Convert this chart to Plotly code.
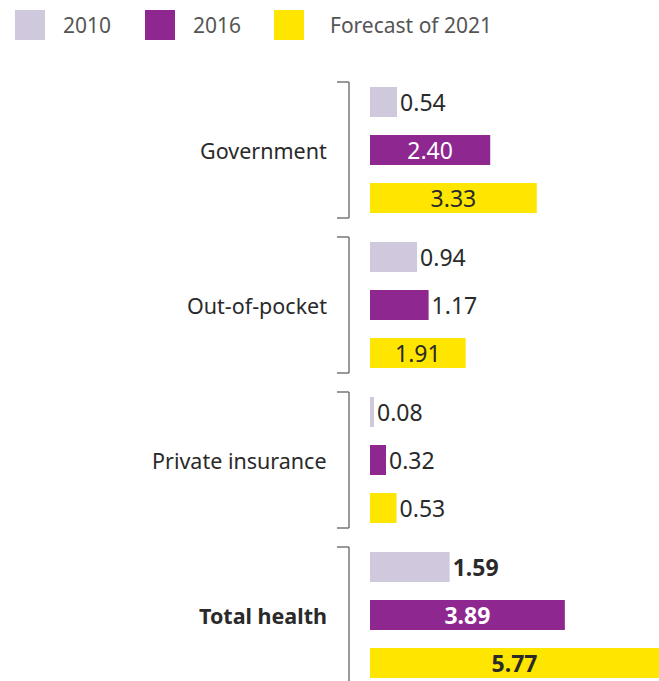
import plotly.graph_objects as go

# Health spending by payer (values as labelled)
categories = ["Government", "Out-of-pocket", "Private insurance", "Total health"]
series_names = ["2010", "2016", "Forecast of 2021"]
values_2010 = [0.54, 0.94, 0.08, 1.59]
values_2016 = [2.40, 1.17, 0.32, 3.89]
values_2021 = [3.33, 1.91, 0.53, 5.77]

colors = ["#D0C8DC", "#8E278F", "#FFE600"]
inside_text_colors = ["#2A2A2A", "#FFFFFF", "#2A2A2A"]

W, H = 659, 681
PLOT_LEFT = 370          # pixel where bars start
PLOT_W = W - PLOT_LEFT
ROW_PX = 48.0            # spacing between bars in a group (1 y-unit)
GROUP_STEP = 155.0 / ROW_PX
FIRST_ROW_PX = 102.0

FONT = "Noto Sans"
TXT = "#2A2A2A"

x_max = max(values_2010 + values_2016 + values_2021)


def px_to_paper_x(px):
    return (px - PLOT_LEFT) / PLOT_W


def px_to_paper_y(py):
    return 1 - py / H


fig = go.Figure()

all_series = [values_2010, values_2016, values_2021]
for s, (name, vals) in enumerate(zip(series_names, all_series)):
    ys = [g * GROUP_STEP + s for g in range(len(categories))]
    labels = [f"{v:.2f}" for v in vals]
    # wide bars carry their label inside, short bars outside
    positions = ["inside" if v >= 1.8 else "outside" for v in vals]
    texts = [f"<b>{t}</b>" if i == len(categories) - 1 else t
             for i, t in enumerate(labels)]
    fig.add_trace(go.Bar(
        x=vals, y=ys, orientation="h", name=name,
        marker=dict(color=colors[s], line=dict(width=0)),
        width=30 / ROW_PX,
        text=texts, textposition=positions,
        insidetextanchor="middle",
        insidetextfont=dict(family=FONT, size=23, color=inside_text_colors[s]),
        outsidetextfont=dict(family=FONT, size=23, color=TXT),
        constraintext="none", cliponaxis=False,
        showlegend=False, hoverinfo="skip",
    ))

annotations = []
shapes = []

# group labels and brackets
for g, cat in enumerate(categories):
    center = g * GROUP_STEP + 1
    half = 68 / ROW_PX
    top, bottom = center - half, center + half
    is_total = g == len(categories) - 1
    annotations.append(dict(
        x=px_to_paper_x(329), y=center, xref="paper", yref="y",
        text=f"<b>{cat}</b>" if is_total else cat,
        showarrow=False, xanchor="right", yanchor="middle",
        font=dict(family=FONT, size=21.5, color=TXT),
    ))
    bx = px_to_paper_x(349)
    tick = px_to_paper_x(337)
    line = dict(color="#777777", width=1.5)
    shapes.append(dict(type="line", xref="paper", yref="y",
                       x0=bx, x1=bx, y0=top, y1=bottom, line=line))
    shapes.append(dict(type="line", xref="paper", yref="y",
                       x0=tick, x1=bx, y0=top, y1=top, line=line))
    if not is_total:
        shapes.append(dict(type="line", xref="paper", yref="y",
                           x0=tick, x1=bx, y0=bottom, y1=bottom, line=line))

# legend row
legend_x = [(15, 61), (145, 191), (274, 328)]
for s, name in enumerate(series_names):
    sx, tx = legend_x[s]
    shapes.append(dict(type="rect", xref="paper", yref="paper",
                       x0=px_to_paper_x(sx), x1=px_to_paper_x(sx + 30),
                       y0=px_to_paper_y(40), y1=px_to_paper_y(10),
                       fillcolor=colors[s], line=dict(width=0)))
    annotations.append(dict(
        x=px_to_paper_x(tx), y=px_to_paper_y(25), xref="paper", yref="paper",
        text=name, showarrow=False, xanchor="left", yanchor="middle",
        font=dict(family=FONT, size=21, color="#555555"),
    ))

fig.update_layout(
    width=W, height=H,
    margin=dict(l=PLOT_LEFT, r=0, t=0, b=0),
    paper_bgcolor="white", plot_bgcolor="white",
    barmode="overlay",
    xaxis=dict(range=[0, x_max], visible=False, fixedrange=True),
    yaxis=dict(range=[(H - FIRST_ROW_PX) / ROW_PX, -FIRST_ROW_PX / ROW_PX],
               visible=False, fixedrange=True),
    shapes=shapes, annotations=annotations,
)

fig.write_html("out.html")
